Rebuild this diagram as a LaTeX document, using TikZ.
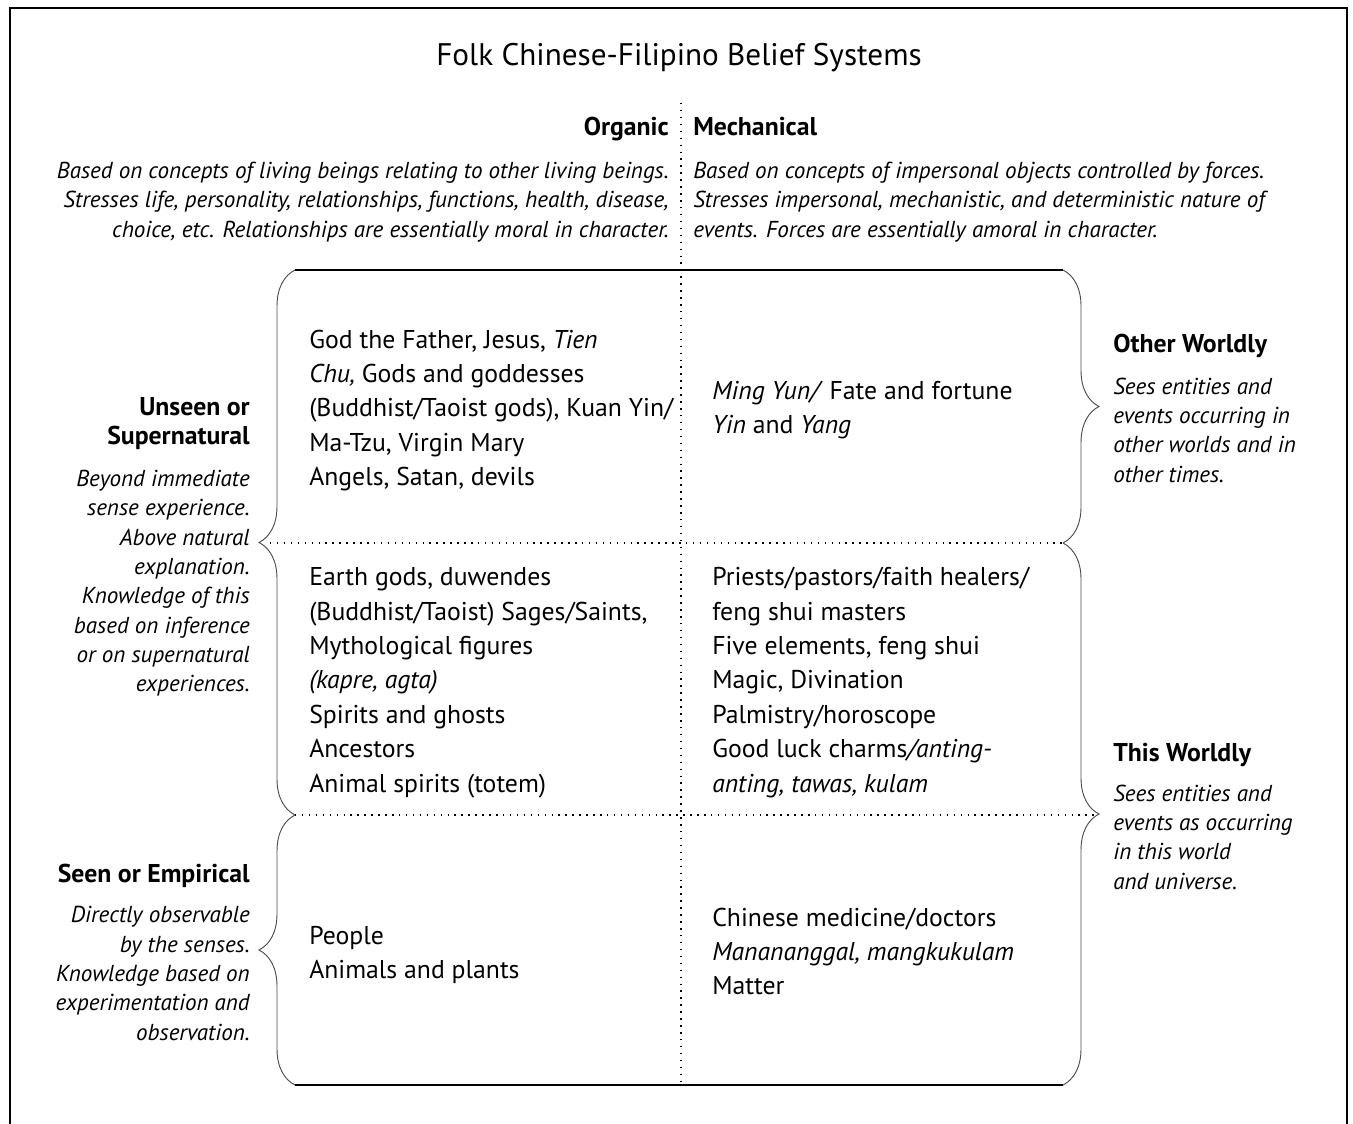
\documentclass[tikz,border=0pt]{standalone}
\usepackage{fontspec}
\setmainfont{PT Sans}
\usetikzlibrary{positioning,decorations.pathreplacing}

\tikzstyle{heading} = [inner sep=0pt, font=\fontsize{23.4}{29}\selectfont]
\tikzstyle{head} = [inner sep=0pt, font=\bfseries\fontsize{19.3}{21.75}\selectfont]
\tikzstyle{note} = [inner sep=0pt, font=\itshape\fontsize{17.3}{22}\selectfont]
\tikzstyle{cell} = [inner sep=0pt, align=left, anchor=base west, font=\fontsize{19.3}{25.8}\selectfont]
\tikzstyle{dotline} = [line width=1.1pt, dash pattern=on 1.1pt off 4.1pt]
\tikzstyle{solidline} = [line width=0.9pt]
\tikzstyle{curly} = [draw=black!70, line width=0.7pt, decorate,
    decoration={brace, amplitude=27pt, aspect=0.5}]

\begin{document}
\begin{tikzpicture}[x=0.75pt, y=-0.75pt]
    \useasboundingbox (0,0) rectangle (1353,1124);

    % Frame
    \draw[line width=2pt] (10,1124) -- (10,8) -- (1347,8) -- (1347,1124);

    % Corners
    \coordinate (tl) at (295,270);
    \coordinate (tr) at (1063,270);
    \coordinate (ml) at (295,543);
    \coordinate (mr) at (1063,543);
    \coordinate (nl) at (295,815);
    \coordinate (nr) at (1063,815);
    \coordinate (bl) at (295,1085);
    \coordinate (br) at (1063,1085);
    \coordinate (leftTip) at (270,543);
    \coordinate (rightTip) at (1094,815);
    \coordinate (top) at (681,103);
    \coordinate (bottom) at (681,1085);

    % Title and columns (base = last line)
    \node [heading, anchor=base] (title) at (679,66) {Folk Chinese-Filipino Belief Systems};
    \node [head, anchor=base east] (organic) at (669,136) {Organic};
    \node [head, anchor=base west] (mechanical) at (693,136) {Mechanical};
    \node [note, align=right, anchor=base east] (organicNote) at ([yshift=-75.75pt]organic.base east)
        {Based on concepts of living beings relating to other living beings.\\
         Stresses life, personality, relationships, functions, health, disease,\\
         choice, etc. Relationships are essentially moral in character.};
    \node [note, align=left, anchor=base west] (mechanicalNote) at ([yshift=-75.75pt]mechanical.base west)
        {Based on concepts of impersonal objects controlled by forces.\\
         Stresses impersonal, mechanistic, and deterministic nature of\\
         events. Forces are essentially amoral in character.};

    % Cells
    \node [cell] (godCell) at (309,485.6)
        {God the Father, Jesus, \textit{Tien}\\ \textit{Chu,} Gods and goddesses\\
         (Buddhist/Taoist gods), Kuan Yin/\\ Ma-Tzu, Virgin Mary\\ Angels, Satan, devils};
    \node [cell] (fateCell) at (712,433.4)
        {\textit{Ming Yun/} Fate and fortune\\ \textit{Yin} and \textit{Yang}};
    \node [cell] (spiritCell) at (309,792)
        {Earth gods, duwendes\\ (Buddhist/Taoist) Sages/Saints,\\ Mythological figures\\
         \textit{(kapre, agta)}\\ Spirits and ghosts\\ Ancestors\\ Animal spirits (totem)};
    \node [cell] (magicCell) at (712,792)
        {Priests/pastors/faith healers/\\ feng shui masters\\ Five elements, feng shui\\
         Magic, Divination\\ Palmistry/horoscope\\ Good luck charms\textit{/anting-}\\
         \textit{anting, tawas, kulam}};
    \node [cell] (peopleCell) at (309,978.4) {People\\ Animals and plants};
    \node [cell] (matterCell) at (712,994.8)
        {Chinese medicine/doctors\\ \textit{Manananggal, mangkukulam}\\ Matter};

    % Side labels
    \node [head, align=right, anchor=base east] (unseen) at (250,444) {Unseen or\\ Supernatural};
    \node [note, align=right, anchor=base east] (unseenNote) at ([yshift=-185.85pt]unseen.base east)
        {Beyond immediate\\ sense experience.\\ Above natural\\ explanation.\\
         Knowledge of this\\ based on inference\\ or on supernatural\\ experiences.};
    \node [head, anchor=base east] (seen) at (250,882) {Seen or Empirical};
    \node [note, align=right, anchor=base east] (seenNote) at ([yshift=-118.5pt]seen.base east)
        {Directly observable\\ by the senses.\\ Knowledge based on\\ experimentation and\\ observation.};
    \node [head, anchor=base west] (other) at (1113,352) {Other Worldly};
    \node [note, align=left, anchor=base west] (otherNote) at ([yshift=-97.5pt]other.base west)
        {Sees entities and\\ events occurring in\\ other worlds and in\\ other times.};
    \node [head, anchor=base west] (this) at (1113,761) {This Worldly};
    \node [note, align=left, anchor=base west] (thisNote) at ([yshift=-96pt]this.base west)
        {Sees entities and\\ events as occurring\\ in this world\\ and universe.};

    % Lines
    \draw [solidline] (tl) -- (tr);
    \draw [solidline] (bl) -- (br);
    \draw [dotline] (top) -- (bottom);
    \draw [dotline] (leftTip) -- (mr);
    \draw [dotline] (nl) -- (rightTip);

    % Braces
    \draw [curly] (nl) -- (tl);
    \draw [curly] (bl) -- (nl);
    \draw [curly] (tr) -- (mr);
    \draw [curly] (mr) -- (br);

\end{tikzpicture}
\end{document}
